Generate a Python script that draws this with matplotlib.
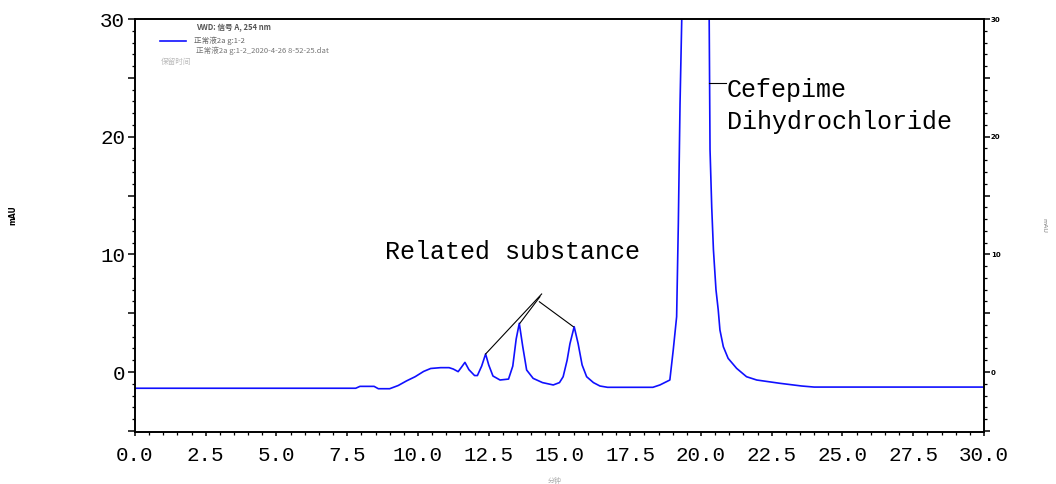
import numpy as np
import matplotlib.pyplot as plt
from matplotlib.ticker import MultipleLocator, FuncFormatter

# Chromatogram trace (retention time in min, absorbance in mAU)
time_min = [0.0, 7.8, 7.95, 8.45, 8.6, 9.0, 9.3, 9.6, 9.9, 10.2, 10.45, 10.8, 11.1,
            11.25, 11.42, 11.55, 11.66, 11.8, 12.0, 12.1, 12.25, 12.39, 12.5, 12.65,
            12.9, 13.2, 13.35, 13.47, 13.58, 13.7, 13.84, 14.07, 14.4, 14.78, 15.0,
            15.13, 15.27, 15.37, 15.52, 15.66, 15.8, 15.96, 16.2, 16.43, 16.7, 18.3,
            18.55, 18.9, 19.02, 19.14, 19.2, 19.26, 19.32, 19.8, 20.29, 20.32, 20.38,
            20.44, 20.53, 20.61, 20.67, 20.79, 20.96, 21.26, 21.61, 21.97, 22.79,
            23.56, 24.0, 30.0]
signal_mau = [-1.38, -1.38, -1.22, -1.22, -1.42, -1.42, -1.15, -0.75, -0.4, 0.05, 0.3,
              0.37, 0.37, 0.25, 0.03, 0.45, 0.82, 0.2, -0.3, -0.3, 0.5, 1.53, 0.6,
              -0.34, -0.68, -0.6, 0.5, 2.8, 4.14, 2.2, 0.17, -0.54, -0.9, -1.1, -0.9,
              -0.4, 1.0, 2.4, 3.85, 2.4, 0.6, -0.4, -0.9, -1.19, -1.3, -1.3, -1.1,
              -0.68, 1.87, 4.7, 12.6, 22.8, 29.9, 80.0, 30.0, 18.9, 14.0, 10.4, 7.0,
              5.27, 3.57, 2.15, 1.16, 0.31, -0.4, -0.68, -0.96, -1.19, -1.28, -1.28]

# Leader lines: (x0, y0, x1, y1) in data units
related_lines = [(12.39, 1.53, 14.37, 6.63),
                 (13.60, 4.14, 14.31, 6.40),
                 (14.29, 5.97, 15.49, 3.85)]
main_line = (20.30, 24.55, 20.88, 24.55)

related_label = 'Related substance'
main_label = ['Cefepime', 'Dihydrochloride']

legend_lines = ['VWD: 信号 A, 254 nm', '正常液2a g:1-2',
                '正常液2a g:1-2_2020-4-26 8-52-25.dat']

mono = 'Liberation Mono'
cjk = ['Noto Sans CJK SC', 'DejaVu Sans']

fig = plt.figure(figsize=(10.56, 4.84), dpi=100)
ax = fig.add_axes([0.1278, 0.1074, 0.8040, 0.8533])

ax.plot(time_min, signal_mau, color='#1010ff', lw=1.2, label=legend_lines[1])

for x0, y0, x1, y1 in related_lines:
    ax.plot([x0, x1], [y0, y1], color='black', lw=0.8)
ax.plot(main_line[::2], main_line[1::2], color='black', lw=0.8)

ax.text(8.83, 10.2, related_label, fontsize=18, family=mono, va='center', ha='left')
ax.text(20.92, 23.96, main_label[0], fontsize=18, family=mono, va='center', ha='left')
ax.text(20.92, 21.24, main_label[1], fontsize=18, family=mono, va='center', ha='left')

ax.set_xlim(0, 30)
ax.set_ylim(-5.1, 30)

# x axis
ax.xaxis.set_major_locator(MultipleLocator(2.5))
ax.xaxis.set_minor_locator(MultipleLocator(0.5))
ax.xaxis.set_major_formatter(FuncFormatter(lambda v, p: f'{v:.1f}'))
ax.tick_params(axis='x', which='major', direction='out', length=3, width=1.1,
               pad=7, labelsize=15)
ax.tick_params(axis='x', which='minor', direction='out', length=2, width=0.9)

# left y axis
ax.yaxis.set_major_locator(MultipleLocator(5))
ax.yaxis.set_minor_locator(MultipleLocator(1))
ax.yaxis.set_major_formatter(FuncFormatter(lambda v, p: f'{v:.0f}' if v % 10 == 0 and v >= 0 else ''))
ax.tick_params(axis='y', which='major', direction='out', length=5, width=1.1,
               pad=2, labelsize=15)
ax.tick_params(axis='y', which='minor', direction='out', length=2.5, width=0.9)
for lab in ax.get_xticklabels() + ax.get_yticklabels():
    lab.set_family(mono)

for s in ax.spines.values():
    s.set_linewidth(1.2)

# right y axis (same scale, tiny labels)
ax2 = ax.twinx()
ax2.set_ylim(ax.get_ylim())
ax2.yaxis.set_major_locator(MultipleLocator(5))
ax2.yaxis.set_minor_locator(MultipleLocator(1))
ax2.yaxis.set_major_formatter(FuncFormatter(lambda v, p: f'{v:.0f}' if v % 10 == 0 and v >= 0 else ''))
ax2.tick_params(axis='y', which='major', direction='out', length=4, width=1.1,
                pad=1, labelsize=5)
ax2.tick_params(axis='y', which='minor', direction='out', length=2, width=0.9)
for lab in ax2.get_yticklabels():
    lab.set_fontweight('bold')
ax2.set_ylabel('mAU', fontsize=4.5, color='#777777', rotation=-90)
ax2.yaxis.set_label_coords(1.074, 0.50)
for s in ax2.spines.values():
    s.set_linewidth(1.2)

ax.set_ylabel('mAU', fontsize=5.5, fontweight='bold')
ax.yaxis.set_label_coords(-0.138, 0.525)
ax.set_xlabel('分钟', fontsize=5, color='#aaaaaa', family=cjk)
ax.xaxis.set_label_coords(0.495, -0.109)

# legend block in upper left
leg = ax.legend(loc='upper left', bbox_to_anchor=(0.029, 0.957), frameon=False,
                prop={'family': cjk, 'size': 5.5}, handlelength=3.4,
                handletextpad=1.1, borderpad=0, borderaxespad=0)
for t in leg.get_texts():
    t.set_color('#666666')
ax.text(0.072, 0.979, legend_lines[0], transform=ax.transAxes, fontsize=5.5,
        family=cjk, color='#555555', va='center', ha='left', fontweight='bold')
ax.text(0.072, 0.924, legend_lines[2], transform=ax.transAxes, fontsize=5.5,
        family=cjk, color='#777777', va='center', ha='left')
ax.text(0.031, 0.896, '保留时间', transform=ax.transAxes, fontsize=5.5,
        family=cjk, color='#bbbbbb', va='center', ha='left')

fig.savefig('out.png', dpi=100)
